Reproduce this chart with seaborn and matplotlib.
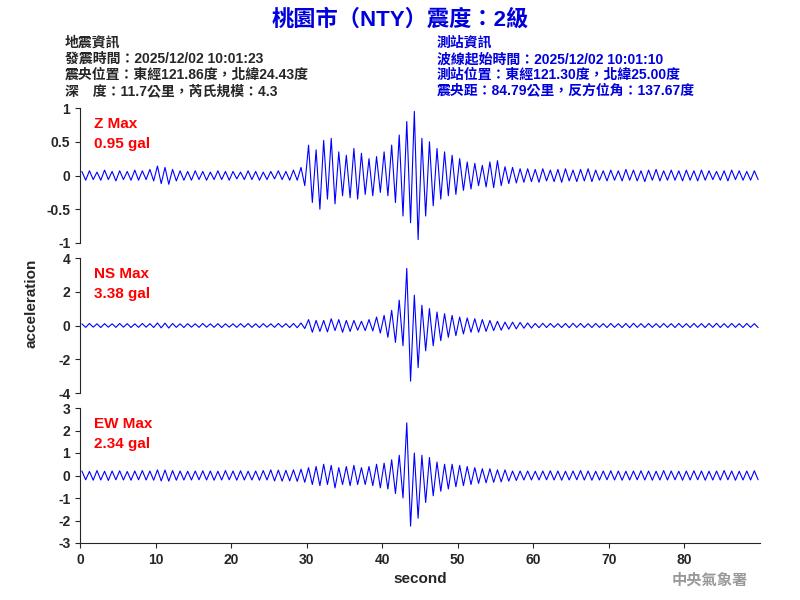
import numpy as np
import matplotlib.pyplot as plt
import seaborn as sns
import pandas as pd

# envelope, one value per second (0..89 s)
z_up = [.06,.07,.05,.08,.06,.07,.06,.08,.07,.09, .14,.12,.09,.07,.06,.07,.06,.05,.07,.06,
        .06,.05,.07,.06,.05,.06,.07,.06,.08,.12, .45,.38,.52,.55,.35,.30,.40,.33,.25,.28,
        .35,.45,.60,.80,.95,.55,.50,.40,.35,.30, .25,.20,.18,.15,.20,.22,.13,.12,.10,.10,
        .09,.10,.08,.09,.10,.08,.09,.10,.08,.07, .08,.07,.09,.08,.07,.08,.09,.07,.08,.07,
        .08,.07,.08,.07,.06,.07,.08,.07,.06,.07]
z_lo = [.07,.06,.07,.06,.08,.06,.07,.07,.06,.08, .12,.13,.08,.07,.07,.06,.07,.06,.06,.07,
        .05,.06,.06,.07,.06,.05,.06,.07,.07,.15, .40,.50,.35,.42,.30,.33,.35,.28,.30,.25,
        .30,.40,.60,.70,.95,.60,.45,.35,.30,.28, .22,.20,.15,.17,.18,.15,.12,.11,.10,.09,
        .10,.08,.09,.10,.08,.09,.08,.09,.07,.08, .07,.08,.07,.08,.09,.07,.08,.07,.07,.08,
        .07,.08,.07,.06,.07,.08,.06,.07,.07,.06]
ns_up = [.10,.12,.10,.11,.10,.12,.11,.10,.12,.11, .15,.14,.12,.10,.11,.10,.12,.10,.11,.10,
         .10,.11,.12,.10,.11,.10,.12,.11,.12,.15, .35,.30,.30,.40,.35,.30,.30,.25,.35,.50,
         .60,.90,1.5,3.38,1.8,1.2,1.0,.80,.70,.60, .50,.45,.40,.35,.30,.25,.20,.20,.18,.15,
         .12,.13,.12,.11,.12,.13,.12,.11,.12,.11, .12,.11,.12,.13,.11,.12,.11,.12,.11,.12,
         .11,.12,.11,.12,.13,.11,.12,.11,.12,.11]
ns_lo = [.11,.10,.12,.10,.11,.10,.12,.11,.10,.12, .14,.15,.11,.12,.10,.11,.10,.11,.12,.10,
         .11,.10,.11,.12,.10,.11,.10,.12,.13,.18, .40,.35,.38,.30,.40,.35,.28,.30,.32,.45,
         .70,1.0,1.2,3.30,2.5,1.5,1.2,.90,.70,.60, .50,.40,.40,.35,.30,.28,.22,.20,.16,.15,
         .13,.12,.11,.12,.13,.11,.12,.12,.11,.12, .11,.12,.13,.11,.12,.11,.12,.11,.12,.11,
         .12,.11,.12,.11,.12,.12,.11,.12,.11,.12]
ew_up = [.20,.18,.22,.19,.20,.21,.18,.20,.22,.20, .25,.24,.22,.20,.19,.20,.21,.20,.19,.22,
         .20,.21,.19,.20,.22,.25,.24,.23,.25,.28, .35,.40,.50,.45,.35,.40,.45,.35,.40,.50,
         .55,.70,.90,2.34,1.0,.90,.80,.60,.50,.50, .45,.40,.35,.30,.30,.25,.25,.20,.20,.20,
         .19,.20,.21,.20,.19,.20,.22,.20,.19,.20, .21,.20,.19,.20,.21,.20,.19,.22,.20,.19,
         .20,.21,.20,.19,.20,.22,.20,.19,.20,.21]
ew_lo = [.19,.21,.20,.22,.19,.20,.21,.19,.20,.21, .24,.25,.21,.20,.20,.19,.20,.21,.20,.19,
         .21,.20,.20,.21,.20,.24,.25,.24,.26,.30, .40,.45,.40,.55,.40,.45,.40,.40,.45,.55,
         .60,.80,1.0,2.25,1.9,1.2,.90,.70,.60,.50, .45,.40,.35,.32,.30,.28,.25,.22,.20,.20,
         .20,.19,.20,.21,.20,.19,.20,.21,.20,.19, .20,.21,.20,.19,.20,.21,.20,.20,.19,.21,
         .20,.19,.21,.20,.20,.19,.21,.20,.20,.19]

traces = [("Z Max\n0.95 gal", z_up, z_lo, 1, [1, 0.5, 0, -0.5, -1]),
          ("NS Max\n3.38 gal", ns_up, ns_lo, 4, [4, 2, 0, -2, -4]),
          ("EW Max\n2.34 gal", ew_up, ew_lo, 3, [3, 2, 1, 0, -1, -2, -3])]

sns.set_style("ticks")
plt.rcParams['font.family'] = ['Liberation Sans', 'Noto Sans CJK TC', 'DejaVu Sans']

fig = plt.figure(figsize=(8, 6), dpi=100)
bottoms = [0.595, 0.345, 0.095]

for i, (label, up, lo, lim, ticks) in enumerate(traces):
    ax = fig.add_axes([0.1, bottoms[i], 0.85, 0.225])
    t = np.arange(len(up))
    df = pd.DataFrame({"t": np.ravel(np.column_stack([t + 0.25, t + 0.75])),
                       "a": np.ravel(np.column_stack([up, -np.array(lo)]))})
    sns.lineplot(data=df, x="t", y="a", sort=False, estimator=None,
                 color="blue", linewidth=0.8, ax=ax)
    ax.set_xlim(0, 90)
    ax.set_ylim(-lim, lim)
    ax.set_yticks(ticks)
    ax.set_yticklabels([f"{v:g}" for v in ticks], fontsize=10, fontweight="bold")
    ax.set_xlabel("")
    ax.set_ylabel("")
    sns.despine(ax=ax, top=True, right=True, bottom=(i < 2))
    if i < 2:
        ax.set_xticks([])
    else:
        ax.set_xticks(range(0, 90, 10))
        ax.set_xticklabels([str(v) for v in range(0, 90, 10)], fontsize=10, fontweight="bold")
        ax.set_xlabel("second", fontsize=11, fontweight="bold")
    ax.text(0.02, 0.93, label, transform=ax.transAxes, color="red", fontsize=11,
            fontweight="bold", va="top", linespacing=1.5)

fig.text(0.04, 0.495, "acceleration", rotation=90, ha="center", va="center",
         fontsize=11, fontweight="bold")
fig.text(0.5, 0.967, "桃園市（NTY）震度：2級", ha="center", va="center",
         color="#0000dd", fontsize=16, fontweight="bold")
left = ["地震資訊", "發震時間：2025/12/02 10:01:23", "震央位置：東經121.86度，北緯24.43度",
        "深　度：11.7公里，芮氏規模：4.3"]
right = ["測站資訊", "波線起始時間：2025/12/02 10:01:10", "測站位置：東經121.30度，北緯25.00度",
         "震央距：84.79公里，反方位角：137.67度"]
for k, (l, r) in enumerate(zip(left, right)):
    y = 1 - (43 + 16 * k) / 600
    fig.text(0.081, y, l, fontsize=10, fontweight="bold", va="center")
    fig.text(0.546, y, r, fontsize=10, fontweight="bold", va="center", color="#0000dd")
fig.text(0.935, 0.032, "中央氣象署", ha="right", va="center", color="#999999",
         fontsize=11, fontweight="bold")

fig.savefig("out.png", dpi=100)
